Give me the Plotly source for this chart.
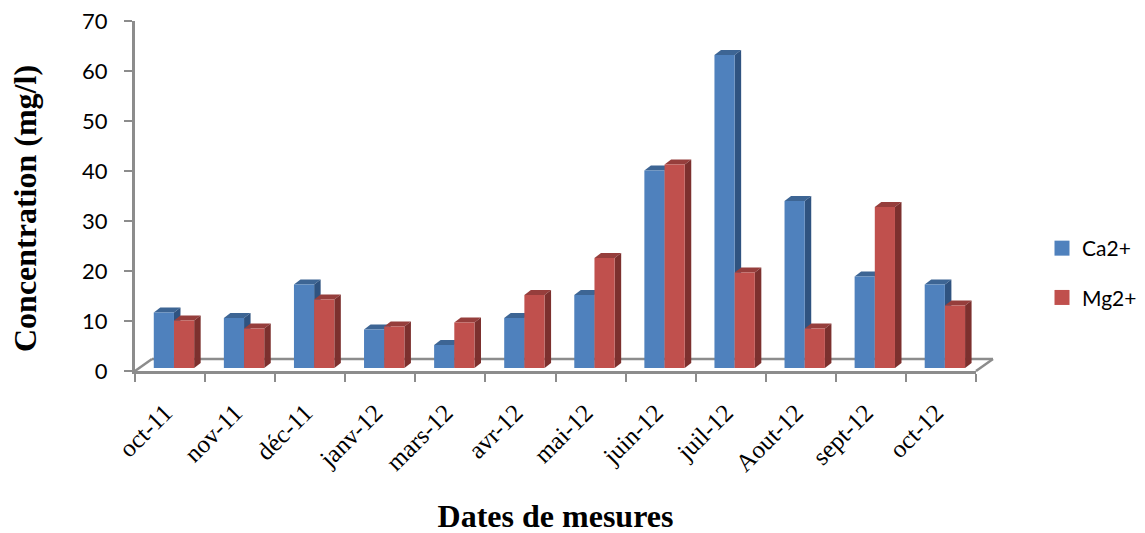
import plotly.graph_objects as go

categories = ["oct-11", "nov-11", "déc-11", "janv-12", "mars-12", "avr-12",
              "mai-12", "juin-12", "juil-12", "Aout-12", "sept-12", "oct-12"]
ca = [11.1, 10.0, 16.7, 7.7, 4.6, 10.0, 14.6, 39.5, 62.6, 33.4, 18.3, 16.7]
mg = [9.5, 7.9, 13.7, 8.3, 9.1, 14.6, 22.0, 40.7, 19.1, 7.9, 32.2, 12.5]
y_ticks = [0, 10, 20, 30, 40, 50, 60, 70]

BLUE, BLUE_TOP, BLUE_SIDE = "#4f81bd", "#3d6594", "#2f5380"
RED, RED_TOP, RED_SIDE = "#c0504d", "#963e3c", "#7c302e"
GREY = "#8c8c8c"
BASE = 0.6      # floor lift of the columns, in axis units
DX, DY = 0.093, 1.0   # oblique depth, in category and axis units
BAR_W = 0.288
OFF_CA, OFF_MG = -0.232, 0.056


def depth_shapes(values, offset, top, side):
    out = []
    for i, v in enumerate(values):
        x0 = i + offset
        x1 = x0 + BAR_W
        y0 = BASE
        y1 = BASE + v
        out.append(dict(type="path", xref="x", yref="y", layer="below",
                        path=f"M {x0},{y1} L {x0+DX},{y1+DY} L {x1+DX},{y1+DY} L {x1},{y1} Z",
                        fillcolor=top, line=dict(width=0)))
        out.append(dict(type="path", xref="x", yref="y", layer="below",
                        path=f"M {x1},{y1} L {x1+DX},{y1+DY} L {x1+DX},{y0+DY} L {x1},{y0} Z",
                        fillcolor=side, line=dict(width=0)))
    return out


PAGE = 7  # the page's own body margin
W, H = 1145 - PAGE, 533 - PAGE
L, R, T, B = 134 - PAGE, 170, 20 - PAGE, 163
PW = W - L - R
PH = H - T - B
fx, fy = 17 / PW, 12 / PH
floor = [
    dict(type="line", xref="paper", yref="paper", layer="below",
         x0=fx, x1=1 + fx, y0=fy, y1=fy, line=dict(color=GREY, width=2.5)),
    dict(type="line", xref="paper", yref="paper", layer="below",
         x0=0, x1=fx, y0=0, y1=fy, line=dict(color=GREY, width=2.5)),
    dict(type="line", xref="paper", yref="paper", layer="below",
         x0=1, x1=1 + fx, y0=0, y1=fy, line=dict(color=GREY, width=2.5)),
]

fig = go.Figure()
for name, vals, col, off in [("Ca2+", ca, BLUE, OFF_CA), ("Mg2+", mg, RED, OFF_MG)]:
    fig.add_trace(go.Bar(x=categories, y=vals, base=BASE, width=BAR_W, offset=off, name=name,
                         marker=dict(color=col, line=dict(width=0)), showlegend=False))
for name, col in [("Ca2+", BLUE), ("Mg2+", RED)]:
    fig.add_trace(go.Scatter(x=[None], y=[None], name=name, mode="markers", legendgroup=name,
                             marker=dict(symbol="square", size=15, color=col)))

fig.update_layout(
    width=W, height=H, autosize=False,
    margin=dict(l=L, r=R, t=T, b=B),
    paper_bgcolor="white", plot_bgcolor="white",
    barmode="overlay",
    shapes=floor + depth_shapes(ca, OFF_CA, BLUE_TOP, BLUE_SIDE) + depth_shapes(mg, OFF_MG, RED_TOP, RED_SIDE),
    annotations=[dict(text="<b>Concentration (mg/l)</b>", xref="paper", yref="paper",
                      x=(24 - 134) / PW, y=(370 - 208) / PH, xanchor="center", yanchor="middle",
                      textangle=-90, showarrow=False,
                      font=dict(family="Liberation Serif", size=32, color="black"))],
    xaxis=dict(type="category", categoryorder="array", categoryarray=categories, automargin=False,
               range=[-0.5, 11.5], tickson="boundaries", ticks="outside", ticklen=8, tickwidth=2,
               tickcolor=GREY, showline=True, linecolor=GREY, linewidth=3, showgrid=False, zeroline=False,
               tickangle=-45, ticklabelstandoff=14, ticklabelshift=-5,
               tickfont=dict(family="Liberation Serif", size=25, color="black"),
               title=dict(text="<b>Dates de mesures</b>", standoff=39,
                          font=dict(family="Liberation Serif", size=32, color="black"))),
    yaxis=dict(range=[0, 70], tickvals=y_ticks, ticks="outside", ticklen=8, tickwidth=2, tickcolor=GREY,
               showline=True, linecolor=GREY, linewidth=3, showgrid=False, zeroline=False, automargin=False,
               ticklabelstandoff=12, ticklabeloverflow="allow",
               tickfont=dict(family="Lato", size=22, color="black")),
    legend=dict(xref="container", yref="container", x=(1041 - PAGE) / W, xanchor="left",
                y=1 - (272 - PAGE) / H, yanchor="middle",
                font=dict(family="Lato", size=21, color="black"), tracegroupgap=19,
                bgcolor="rgba(0,0,0,0)"),
)
fig.write_html("out.html")
